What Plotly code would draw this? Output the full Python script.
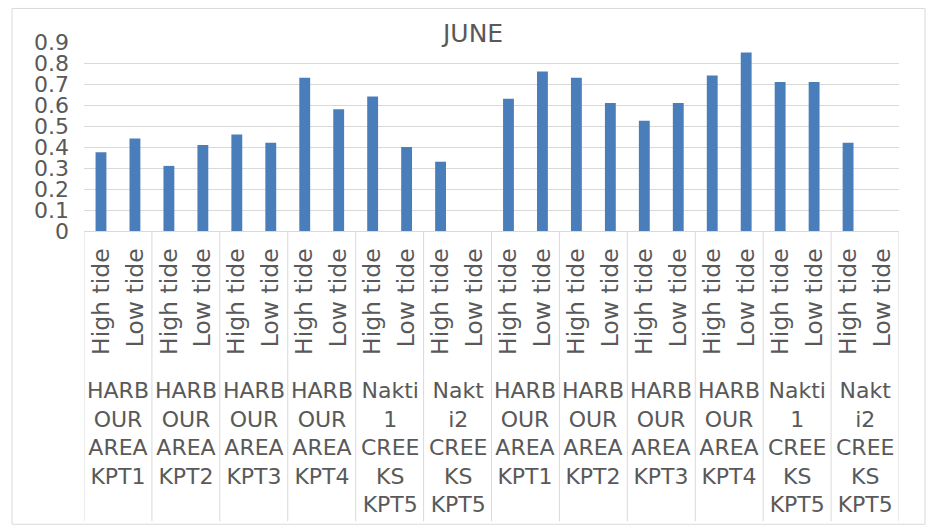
import plotly.graph_objects as go

# Sampling sites (two survey rounds) and tide states
sites = [
    "HARB<br>OUR<br>AREA<br>KPT1",
    "HARB<br>OUR<br>AREA<br>KPT2",
    "HARB<br>OUR<br>AREA<br>KPT3",
    "HARB<br>OUR<br>AREA<br>KPT4",
    "Nakti<br>1<br>CREE<br>KS<br>KPT5",
    "Nakt<br>i2<br>CREE<br>KS<br>KPT5",
    "HARB<br>OUR<br>AREA<br>KPT1",
    "HARB<br>OUR<br>AREA<br>KPT2",
    "HARB<br>OUR<br>AREA<br>KPT3",
    "HARB<br>OUR<br>AREA<br>KPT4",
    "Nakti<br>1<br>CREE<br>KS<br>KPT5",
    "Nakt<br>i2<br>CREE<br>KS<br>KPT5",
]
tides = ["High tide", "Low tide"]

high_tide = [0.375, 0.31, 0.46, 0.73, 0.64, 0.33, 0.63, 0.73, 0.525, 0.74, 0.71, 0.42]
low_tide = [0.44, 0.41, 0.42, 0.58, 0.40, None, 0.76, 0.61, 0.61, 0.85, 0.71, None]

values = []
labels = []
for h, l in zip(high_tide, low_tide):
    values += [h, l]
    labels += tides
xpos = list(range(len(values)))

BLUE = "#4A7EBB"
GRID = "#D9D9D9"
TEXT = "#595959"
FONT = "DejaVu Sans"

fig = go.Figure(go.Bar(x=xpos, y=values, width=0.32, marker_color=BLUE,
                       marker_line_width=0))

# plot-area geometry helpers (paper units)
plot_h = 189.8
def py(pixel_below_axis):
    return -pixel_below_axis / plot_h

shapes = []
n_groups = len(sites)
# group dividers below the axis
for g in range(n_groups + 1):
    xg = 2 * g - 0.5
    shapes.append(dict(type="line", xref="x", yref="paper", x0=xg, x1=xg,
                       y0=0, y1=py(291.5), line=dict(color=GRID, width=1)))
# outer chart border
shapes.append(dict(type="rect", xref="paper", yref="paper",
                   x0=(12 - 84) / 815, x1=(925 - 84) / 815,
                   y0=py(294.5), y1=(231.5 - 8) / plot_h,
                   line=dict(color=GRID, width=1), fillcolor="rgba(0,0,0,0)"))

annotations = []
for g, name in enumerate(sites):
    annotations.append(dict(x=2 * g + 0.5, xref="x", y=py(146), yref="paper",
                            text=name, showarrow=False, yanchor="top",
                            xanchor="center", align="center",
                            font=dict(family=FONT, size=22, color=TEXT)))
annotations.append(dict(x=(471.5 - 84) / 815, xref="paper", y=(231.5 - 33) / plot_h,
                        yref="paper", text="JUNE", showarrow=False,
                        xanchor="center", yanchor="middle",
                        font=dict(family=FONT, size=25, color=TEXT)))

fig.update_layout(
    width=928, height=528,
    margin=dict(l=84, r=29, t=42, b=296.5, pad=0),
    paper_bgcolor="white", plot_bgcolor="white",
    showlegend=False,
    shapes=shapes, annotations=annotations,
    font=dict(family=FONT, color=TEXT),
)
fig.update_xaxes(
    range=[-0.5, len(values) - 0.5], tickmode="array", tickvals=xpos,
    ticktext=labels, tickangle=-90, tickfont=dict(family=FONT, size=23.5, color=TEXT),
    showgrid=False, zeroline=False, showline=True, linecolor=GRID, linewidth=1,
    ticks="outside", ticklen=4, tickcolor="rgba(0,0,0,0)", ticklabelstandoff=3,
)
fig.update_yaxes(
    range=[0, 0.9], dtick=0.1, tick0=0, tickformat="~g",
    tickfont=dict(family=FONT, size=22, color=TEXT),
    showgrid=True, gridcolor=GRID, gridwidth=1, zeroline=False,
    showline=False, ticks="", ticklabelstandoff=14,
)

fig.write_html("out.html")
